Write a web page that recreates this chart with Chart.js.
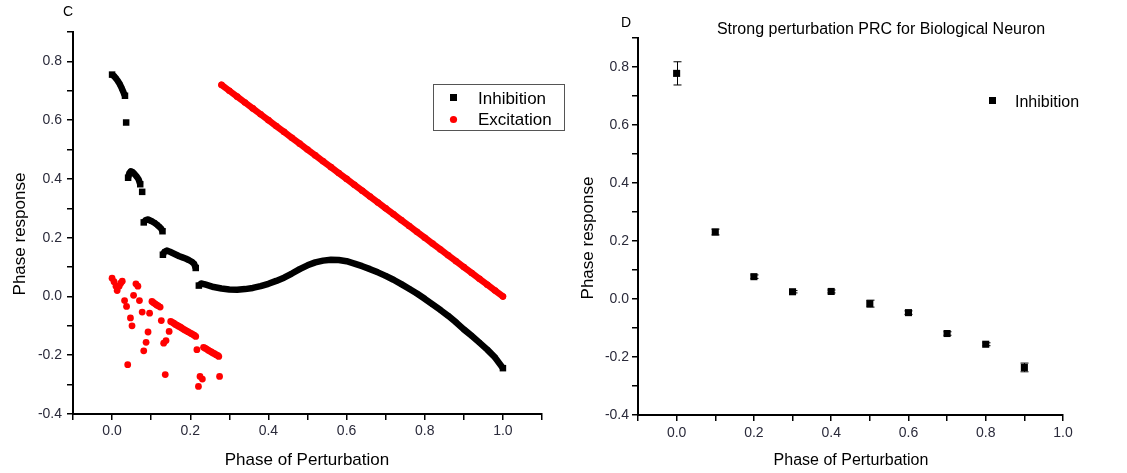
<!DOCTYPE html>
<html>
<head>
<meta charset="utf-8">
<script src="https://cdn.jsdelivr.net/npm/chart.js@4.4.1/dist/chart.umd.min.js"></script>
<style>
    body { margin: 0; background: #fff; }
    canvas { position: absolute; top: 0; }
    #prcC { left: 0; }
    #prcD { left: 570px; }
</style>
</head>
<body>
<canvas id="prcC" width="570" height="473"></canvas>
<canvas id="prcD" width="557" height="473"></canvas>
<script>
// Panel C: model PRC, inhibition (black) and excitation (red)
// null entries split the inhibition curve into its separate branches
const inhX = [
    0.000, 0.005, 0.010, 0.015, 0.020, 0.025, 0.030, 0.033, null,
    0.036, null,
    0.041, 0.044, 0.048, 0.053, 0.058, 0.063, 0.068, 0.072, null,
    0.077, null,
    0.081, 0.086, 0.092, 0.100, 0.108, 0.115, 0.121, 0.126, 0.129, null,
    0.130, 0.134, 0.140, 0.148, 0.156, 0.164, 0.172, 0.180, 0.188, 0.196, 0.204, 0.210, 0.214, null,
    0.222, 0.228, 0.235, 0.24, 0.26, 0.28, 0.30, 0.32, 0.34, 0.36, 0.38, 0.40, 0.42, 0.44, 0.46, 0.48,
    0.50, 0.52, 0.54, 0.56, 0.58, 0.60, 0.62, 0.64, 0.66, 0.68, 0.70, 0.72, 0.74, 0.76, 0.78, 0.80,
    0.82, 0.84, 0.86, 0.88, 0.90, 0.92, 0.94, 0.96, 0.98, 1.00
];
const inhY = [
    0.755, 0.750, 0.742, 0.733, 0.722, 0.708, 0.692, 0.683, null,
    0.592, null,
    0.404, 0.419, 0.426, 0.423, 0.416, 0.408, 0.398, 0.382, null,
    0.356, null,
    0.252, 0.260, 0.262, 0.257, 0.251, 0.244, 0.237, 0.230, 0.222, null,
    0.142, 0.152, 0.156, 0.152, 0.147, 0.142, 0.137, 0.133, 0.129, 0.124, 0.118, 0.111, 0.097, null,
    0.037, 0.044, 0.042, 0.040, 0.032, 0.027, 0.024, 0.023, 0.025, 0.029, 0.035, 0.043, 0.053, 0.064, 0.078, 0.093,
    0.106, 0.116, 0.122, 0.125, 0.124, 0.120, 0.112, 0.103, 0.093, 0.082, 0.070, 0.057, 0.042, 0.026, 0.010, -0.008,
    -0.027, -0.046, -0.066, -0.088, -0.112, -0.134, -0.157, -0.181, -0.208, -0.244
];

// early-phase excitation responses (scattered)
const excScatX = [
    0.000, 0.005, 0.010, 0.013, 0.018, 0.022, 0.026, 0.032, 0.037, 0.040, 0.047, 0.051,
    0.055, 0.061, 0.066, 0.070, 0.077, 0.081, 0.087, 0.092, 0.096,
    0.102, 0.106, 0.110, 0.114, 0.118, 0.123,
    0.126, 0.132, 0.136, 0.138, 0.146,
    0.150, 0.154, 0.158, 0.162, 0.166, 0.170, 0.174, 0.178, 0.182, 0.186, 0.190, 0.194, 0.198, 0.202, 0.206, 0.210, 0.214,
    0.217, 0.221, 0.225, 0.231,
    0.234, 0.238, 0.242, 0.246, 0.250, 0.254, 0.258, 0.262, 0.266, 0.270, 0.273,
    0.275
];
const excScatY = [
    0.062, 0.050, 0.035, 0.020, 0.035, 0.045, 0.052, -0.014, -0.034, -0.232, -0.073, -0.100,
    0.004, 0.043, 0.035, -0.014, -0.053, -0.185, -0.156, -0.121, -0.057,
    -0.017, -0.021, -0.025, -0.029, -0.032, -0.036,
    -0.082, -0.159, -0.266, -0.150, -0.119,
    -0.085, -0.088, -0.091, -0.095, -0.098, -0.101, -0.104, -0.107, -0.111, -0.114, -0.117, -0.120, -0.123, -0.126, -0.129, -0.132, -0.136,
    -0.181, -0.306, -0.272, -0.281,
    -0.173, -0.176, -0.179, -0.183, -0.186, -0.189, -0.192, -0.195, -0.198, -0.201, -0.204,
    -0.272
];

// late-phase excitation responses (continuous branch)
const excLineX = [
    0.28, 0.30, 0.32, 0.34, 0.36, 0.38, 0.40, 0.42, 0.44, 0.46, 0.48, 0.50, 0.52, 0.54, 0.56, 0.58, 0.60, 0.62, 0.64,
    0.66, 0.68, 0.70, 0.72, 0.74, 0.76, 0.78, 0.80, 0.82, 0.84, 0.86, 0.88, 0.90, 0.92, 0.94, 0.96, 0.98, 1.00
];
const excLineY = [
    0.72, 0.70, 0.68, 0.66, 0.64, 0.62, 0.60, 0.58, 0.56, 0.54, 0.52, 0.50, 0.48, 0.46, 0.44, 0.42, 0.40, 0.38, 0.36,
    0.34, 0.32, 0.30, 0.28, 0.26, 0.24, 0.22, 0.20, 0.18, 0.16, 0.14, 0.12, 0.10, 0.08, 0.06, 0.04, 0.02, 0.00
];

// Panel D: measured PRC of the biological neuron, mean +/- error
const bioPhase = [0.0, 0.1, 0.2, 0.3, 0.4, 0.5, 0.6, 0.7, 0.8, 0.9];
const bioResponse = [0.778, 0.231, 0.077, 0.025, 0.026, -0.016, -0.047, -0.119, -0.156, -0.236];
const bioError = [0.040, 0.010, 0.006, 0.004, 0.005, 0.012, 0.006, 0.006, 0.005, 0.015];

const FONT = '"Liberation Sans", Arial, sans-serif';
const TICK_COLOR = '#2a2a3a';

const toPoints = (xs, ys) => xs.map((x, i) => ({ x: x, y: ys[i] }));
const everyOther = v => Math.round(v * 10) % 2 === 0 ? v.toFixed(1) : '';

// full-size squares at branch ends and lone points, smaller ones inside a branch
const branchRadius = ctx => {
    const i = ctx.dataIndex;
    const inside = inhY[i - 1] != null && inhY[i + 1] != null;
    return inside ? 3.2 : 4.6;
};

function axes(xMax, yWidth, xHeight, tickPad) {
    const common = {
        type: 'linear',
        border: { display: true, color: '#000', width: 2 },
        grid: { drawOnChartArea: false, tickLength: 6, tickColor: '#000', lineWidth: 1.5 },
        ticks: {
            stepSize: 0.1,
            autoSkip: false,
            color: TICK_COLOR,
            font: { family: FONT, size: 14 },
            callback: everyOther
        }
    };
    return {
        x: {
            ...common,
            min: -0.1,
            max: xMax,
            ticks: { ...common.ticks, padding: tickPad.x, maxRotation: 0 },
            afterFit: s => { s.height = xHeight; }
        },
        y: {
            ...common,
            min: -0.4,
            max: 0.9,
            ticks: { ...common.ticks, padding: tickPad.y },
            afterFit: s => { s.width = yWidth; }
        }
    };
}

function text(ctx, str, x, y, size, align) {
    ctx.font = size + 'px ' + FONT;
    ctx.fillStyle = '#000';
    ctx.textAlign = align || 'left';
    ctx.textBaseline = 'alphabetic';
    ctx.fillText(str, x, y);
}

function vtext(ctx, str, x, y, size) {
    ctx.save();
    ctx.translate(x, y);
    ctx.rotate(-Math.PI / 2);
    text(ctx, str, 0, 0, size, 'center');
    ctx.restore();
}

const decorC = {
    id: 'decorC',
    afterDraw(chart) {
        const ctx = chart.ctx;
        text(ctx, 'C', 63, 16, 14);
        vtext(ctx, 'Phase response', 25, 234, 17);
        text(ctx, 'Phase of Perturbation', 307, 465, 17, 'center');

        // legend box
        ctx.strokeStyle = '#555';
        ctx.lineWidth = 1;
        ctx.strokeRect(433.5, 84.5, 131, 46);
        ctx.fillStyle = '#000';
        ctx.fillRect(450, 94, 7, 7);
        ctx.fillStyle = '#ff0000';
        ctx.beginPath();
        ctx.arc(453.5, 119.5, 3.6, 0, Math.PI * 2);
        ctx.fill();
        text(ctx, 'Inhibition', 478, 104, 17);
        text(ctx, 'Excitation', 478, 125, 17);
    }
};

const decorD = {
    id: 'decorD',
    afterDatasetsDraw(chart) {
        const ctx = chart.ctx;
        const xs = chart.scales.x;
        const ys = chart.scales.y;
        ctx.save();
        ctx.strokeStyle = '#000';
        ctx.lineWidth = 1;
        bioPhase.forEach((p, i) => {
            const px = Math.round(xs.getPixelForValue(p)) + 0.5;
            const top = ys.getPixelForValue(bioResponse[i] + bioError[i]);
            const bot = ys.getPixelForValue(bioResponse[i] - bioError[i]);
            ctx.beginPath();
            ctx.moveTo(px, top);
            ctx.lineTo(px, bot);
            ctx.moveTo(px - 4, top);
            ctx.lineTo(px + 4, top);
            ctx.moveTo(px - 4, bot);
            ctx.lineTo(px + 4, bot);
            ctx.stroke();
        });
        ctx.restore();
    },
    afterDraw(chart) {
        const ctx = chart.ctx;
        text(ctx, 'D', 51, 27, 14);
        text(ctx, 'Strong perturbation PRC for Biological Neuron', 311, 34, 16, 'center');
        vtext(ctx, 'Phase response', 23, 238, 17);
        text(ctx, 'Phase of Perturbation', 281, 465, 16, 'center');
        ctx.fillStyle = '#000';
        ctx.fillRect(419, 97, 7, 7);
        text(ctx, 'Inhibition', 445, 107, 16);
    }
};

const baseOptions = {
    responsive: false,
    animation: false,
    devicePixelRatio: 1,
    plugins: { legend: { display: false }, tooltip: { enabled: false } }
};

new Chart(document.getElementById('prcC'), {
    type: 'scatter',
    data: {
        datasets: [
            {
                label: 'Inhibition',
                data: toPoints(inhX, inhY),
                showLine: true,
                spanGaps: false,
                borderColor: '#000',
                borderWidth: 6.5,
                borderJoinStyle: 'round',
                pointStyle: 'rect',
                pointRadius: branchRadius,
                pointBorderWidth: 0,
                backgroundColor: '#000'
            },
            {
                label: 'Excitation',
                data: toPoints(excScatX, excScatY),
                showLine: false,
                pointStyle: 'circle',
                pointRadius: 3.4,
                pointBorderWidth: 0,
                backgroundColor: '#ff0000'
            },
            {
                label: 'Excitation',
                data: toPoints(excLineX, excLineY),
                showLine: true,
                borderColor: '#ff0000',
                borderWidth: 6.5,
                borderCapStyle: 'round',
                pointStyle: 'circle',
                pointRadius: 3.3,
                pointBorderWidth: 0,
                backgroundColor: '#ff0000'
            }
        ]
    },
    options: {
        ...baseOptions,
        layout: { padding: { top: 32, right: 28, left: 0, bottom: 0 } },
        scales: axes(1.1, 73, 59, { x: 3, y: 5 })
    },
    plugins: [decorC]
});

new Chart(document.getElementById('prcD'), {
    type: 'scatter',
    data: {
        datasets: [
            {
                label: 'Inhibition',
                data: toPoints(bioPhase, bioResponse),
                pointStyle: 'rect',
                pointRadius: 5,
                pointBorderWidth: 0,
                backgroundColor: '#000'
            }
        ]
    },
    options: {
        ...baseOptions,
        layout: { padding: { top: 38, right: 64, left: 0, bottom: 0 } },
        scales: axes(1.0, 68, 58, { x: 4, y: 3 })
    },
    plugins: [decorD]
});
</script>
</body>
</html>
